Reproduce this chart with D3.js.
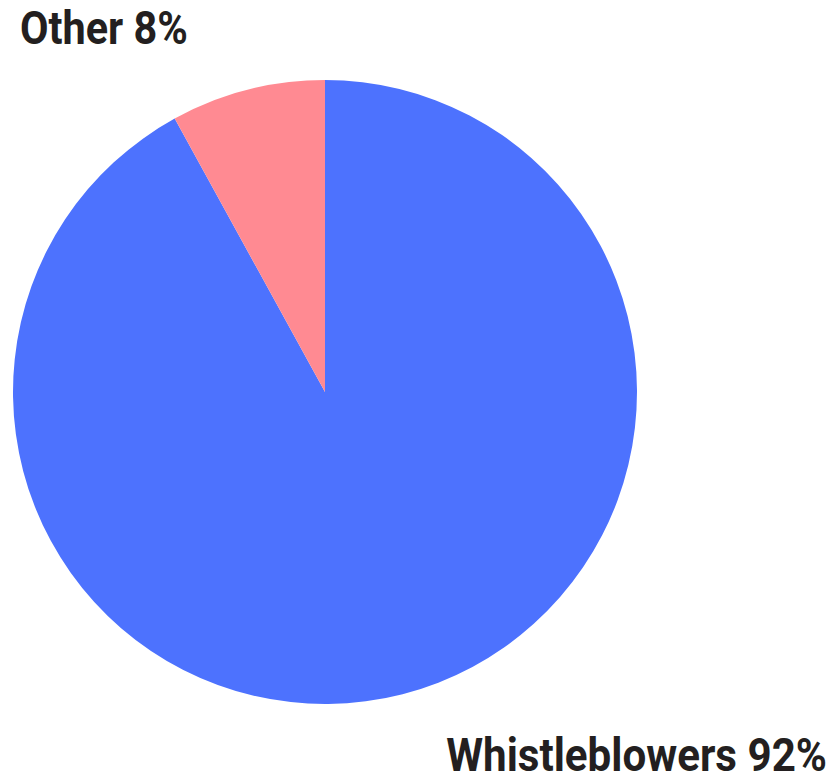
<!DOCTYPE html>
<html>
<head>
<meta charset="utf-8">
<script src="https://cdn.jsdelivr.net/npm/d3@7"></script>
<style>
  body { margin: 0; background: #fff; }
  text { font-family: Roboto, "Liberation Sans", sans-serif; font-weight: 700; fill: #231f20; }
</style>
</head>
<body>
<svg id="chart"></svg>
<script>
const labels = ["Whistleblowers", "Other"];
const values = [92, 8];
const colors = ["#4d72fe", "#ff8a92"];

const width = 835, height = 778;
const cx = 325, cy = 392, radius = 312;

const svg = d3.select("#chart")
    .attr("width", width)
    .attr("height", height);

// other slice sits just left of 12 o'clock
const pie = d3.pie()
    .sort(null)
    .value(d => d)
    .startAngle(0)
    .endAngle(2 * Math.PI);

const arc = d3.arc().innerRadius(0).outerRadius(radius);

svg.append("g")
    .attr("transform", `translate(${cx},${cy})`)
    .selectAll("path")
    .data(pie(values))
    .join("path")
    .attr("d", arc)
    .attr("fill", (d, i) => colors[i]);

// condensed look: squeeze the text horizontally to the target width
const labelSpecs = [
    { text: `${labels[1]} ${values[1]}%`, x: 20, y: 44, anchor: "start", len: 168 },
    { text: `${labels[0]} ${values[0]}%`, x: 827, y: 771, anchor: "end", len: 381 }
];

const g = svg.selectAll("g.lbl")
    .data(labelSpecs)
    .join("g")
    .attr("class", "lbl");

g.append("text")
    .attr("text-anchor", d => d.anchor)
    .attr("font-size", 47)
    .text(d => d.text)
    .each(function (d) {
        const w = this.getComputedTextLength();
        const sx = d.len / w;
        d3.select(this.parentNode)
            .attr("transform", `translate(${d.x},${d.y}) scale(${sx},1)`);
    });
</script>
</body>
</html>
